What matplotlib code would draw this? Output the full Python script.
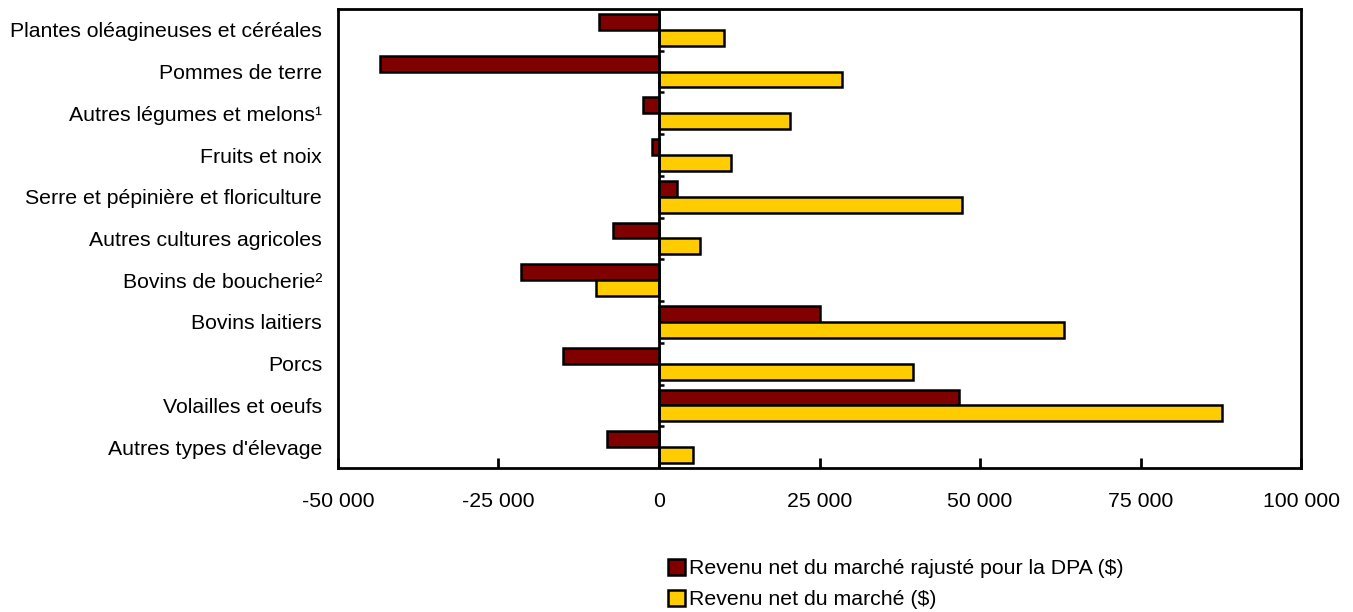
import numpy as np
import matplotlib.pyplot as plt
from matplotlib.ticker import FuncFormatter

plt.rcParams['font.family'] = ['Liberation Sans', 'DejaVu Sans']
plt.rcParams['font.size'] = 15.3

categories = ["Plantes oléagineuses et céréales", "Pommes de terre",
              "Autres légumes et melons¹", "Fruits et noix",
              "Serre et pépinière et floriculture", "Autres cultures agricoles",
              "Bovins de boucherie²", "Bovins laitiers", "Porcs",
              "Volailles et oeufs", "Autres types d'élevage"]
rajuste = [-9300, -43500, -2500, -1100, 2800, -7200, -21500, 25100, -15000, 46700, -8100]
marche = [10100, 28500, 20400, 11200, 47200, 6400, -9800, 63100, 39600, 87700, 5300]
label_rajuste = "Revenu net du marché rajusté pour la DPA ($)"
label_marche = "Revenu net du marché ($)"

fig = plt.figure(figsize=(13.53, 6.12), dpi=100)
ax = fig.add_axes([0.2498, 0.2353, 0.7118, 0.75])

y = np.arange(len(categories))
h = 0.38
ax.barh(y - h / 2, rajuste, height=h, color="#800000", edgecolor="black", linewidth=1.8, label=label_rajuste)
ax.barh(y + h / 2, marche, height=h, color="#FFCC00", edgecolor="black", linewidth=1.8, label=label_marche)

ax.axvline(0, color="black", linewidth=2)
# small ticks on the zero line between categories
ax.hlines(y[:-1] + 0.5, 0, 800, color="black", linewidth=1.8)

ax.set_xlim(-50000, 100000)
ax.set_ylim(len(categories) - 0.5, -0.5)
ax.set_yticks(y)
ax.set_yticklabels(categories)
ax.tick_params(axis="y", length=0, pad=11.5)
ax.set_xticks(np.arange(-50000, 100001, 25000))
ax.xaxis.set_major_formatter(FuncFormatter(lambda v, p: "{:,.0f}".format(v).replace(",", " ")))
ax.tick_params(axis="x", direction="in", length=7, width=2, pad=17)
for s in ax.spines.values():
    s.set_linewidth(2)

fig.legend(loc="upper left", bbox_to_anchor=(0.4935, 0.087), frameon=False,
           handlelength=0.8, handleheight=0.8, handletextpad=0.2, labelspacing=0.55,
           borderaxespad=0, borderpad=0)

fig.savefig("out.png", dpi=100)
